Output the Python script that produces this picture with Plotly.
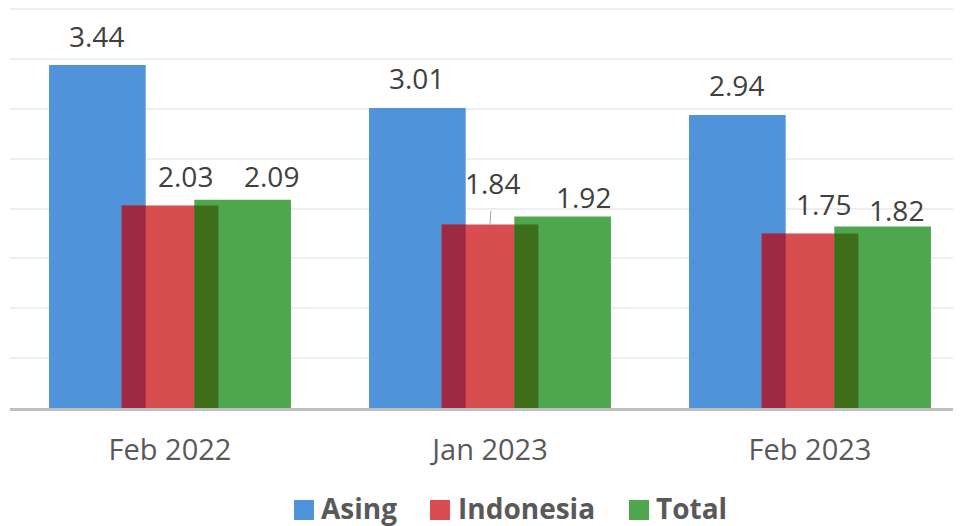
import numpy as np
import plotly.graph_objects as go

categories = ["Feb 2022", "Jan 2023", "Feb 2023"]
asing = [3.44, 3.01, 2.94]
indonesia = [2.03, 1.84, 1.75]
total = [2.09, 1.92, 1.82]
series_names = ["Asing", "Indonesia", "Total"]

# styles
C_BLUE = "#4F94DB"
C_RED = "#D84D4F"
C_GREEN = "#4EA64E"
C_MAROON = "#9E2942"
C_DKGREEN = "#3E6E19"
FONT = "Open Sans"
BAR_W = 0.302
OFFSETS = [-0.378, -0.151, 0.076]
OVL_W = 0.075

# label shifts (px) relative to bar centre/top
lab_dx = {"Asing": [-1, -1, -1], "Indonesia": [15.5, 2.5, 13.5], "Total": [29, 21, 14]}
lab_dy = {"Asing": [29, 30, 30], "Indonesia": [30, 42, 30], "Total": [24, 20, 17]}

fig = go.Figure()
series = [asing, indonesia, total]
colors = [C_BLUE, C_RED, C_GREEN]
for name, vals, col, off in zip(series_names, series, colors, OFFSETS):
    fig.add_trace(go.Bar(x=categories, y=vals, name=name, marker=dict(color=col, line=dict(width=0)),
                         offset=off, width=BAR_W, showlegend=False, hoverinfo="skip"))

ovl_ab = np.minimum(asing, indonesia)
ovl_bc = np.minimum(indonesia, total)
fig.add_trace(go.Bar(x=categories, y=ovl_ab, marker=dict(color=C_MAROON, line=dict(width=0)),
                     offset=OFFSETS[1], width=OVL_W, showlegend=False, hoverinfo="skip"))
fig.add_trace(go.Bar(x=categories, y=ovl_bc, marker=dict(color=C_DKGREEN, line=dict(width=0)),
                     offset=OFFSETS[2], width=OVL_W, showlegend=False, hoverinfo="skip"))

PX_PER_CAT = 320.0
for name, vals, off in zip(series_names, series, OFFSETS):
    centre_px = (off + BAR_W / 2) * PX_PER_CAT
    for i, (c, v) in enumerate(zip(categories, vals)):
        dx = centre_px + lab_dx[name][i]
        dy = lab_dy[name][i]
        if name == "Indonesia" and i == 1:
            fig.add_annotation(x=c, y=v, xref="x", yref="y", text=f"{v:.2f}",
                               showarrow=True, arrowhead=0, arrowwidth=1, arrowcolor="#A6A6A6",
                               ax=dx, ay=-dy, startstandoff=8,
                               font=dict(family=FONT, size=28, color="#404040"))
        else:
            fig.add_annotation(x=c, y=v, xref="x", yref="y", text=f"{v:.2f}", showarrow=False,
                               xshift=dx, yshift=dy, yanchor="middle",
                               font=dict(family=FONT, size=28, color="#404040"))

# page offset (body margin) compensation: window px -> figure px
OFF = 8
PL, PW = 10.0 - OFF, 951.0
PH = 400.0
def px2x(p):
    return (p - OFF - PL) / PW
def py2y(p):
    return (PH - (p - OFF)) / PH

leg_sq = [294, 430, 629]
leg_tx = [322, 459, 657]
for name, col, sq, tx in zip(series_names, colors, leg_sq, leg_tx):
    fig.add_shape(type="rect", xref="paper", yref="paper", x0=px2x(sq), x1=px2x(sq + 20),
                  y0=py2y(500), y1=py2y(520), fillcolor=col, line=dict(width=0))
    fig.add_annotation(xref="paper", yref="paper", x=px2x(tx - 3), y=py2y(508), text=f"<b>{name}</b>",
                       showarrow=False, xanchor="left", yanchor="middle",
                       font=dict(family=FONT, size=28, color="#595959"))

fig.update_layout(
    width=953, height=518, barmode="overlay",
    margin=dict(l=2, r=0, t=0, b=118),
    paper_bgcolor="white", plot_bgcolor="white",
    showlegend=False,
    xaxis=dict(type="category", range=[-0.5, 2.4719], showgrid=False, showline=True,
               linecolor="#BFBFBF", linewidth=3, ticks="", ticklabelstandoff=14,
               tickfont=dict(family=FONT, size=29, color="#595959")),
    yaxis=dict(range=[0, 4.012], tickvals=[0.5, 1, 1.5, 2, 2.5, 3, 3.5, 4], showgrid=True,
               gridcolor="#EEEEEE", gridwidth=2,
               showticklabels=False, zeroline=False, ticks=""),
)

fig.write_html("out.html")
